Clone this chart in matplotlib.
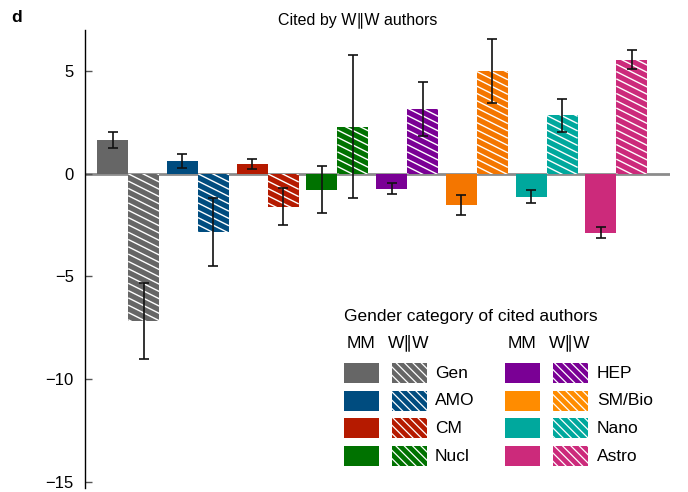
import matplotlib
matplotlib.use("Agg")
import matplotlib.pyplot as plt
from matplotlib.patches import Rectangle
from matplotlib.collections import LineCollection
import numpy as np

plt.rcParams['font.family'] = ['Liberation Sans', 'DejaVu Sans']
plt.rcParams['hatch.color'] = 'white'
plt.rcParams['hatch.linewidth'] = 0.9

fields = ["Gen", "AMO", "CM", "Nucl", "HEP", "SM/Bio", "Nano", "Astro"]
colors = ["#666666", "#004c7f", "#b51a00", "#007200", "#7a0095", "#f47600", "#00a89d", "#cc2a7b"]
legend_colors = ["#666666", "#004c7f", "#b51a00", "#007200", "#7a0095", "#ff8c00", "#00a89d", "#cc2a7b"]

mm_values = [1.65, 0.63, 0.47, -0.78, -0.72, -1.52, -1.12, -2.87]
mm_errors = [0.40, 0.33, 0.25, 1.15, 0.27, 0.50, 0.32, 0.28]
ww_values = [-7.15, -2.83, -1.60, 2.30, 3.15, 5.00, 2.85, 5.55]
ww_errors = [1.85, 1.65, 0.90, 3.50, 1.30, 1.55, 0.80, 0.47]

yticks = [5, 0, -5, -10, -15]

W, H = 688, 492
fig = plt.figure(figsize=(W / 100, H / 100), dpi=100)
ax = fig.add_axes([85 / W, 1 - 488 / H, (670 - 85) / W, (488 - 30) / H])

x = np.arange(len(fields))
bw = 0.445
xlim = (-0.62, 7.77)
ylim = (-15.3, 7.0)
ax.set_xlim(*xlim)
ax.set_ylim(*ylim)

ax.axhline(0, color="#8c8c8c", lw=2, zorder=1)
ax.bar(x - bw / 2, mm_values, width=bw, color=colors, zorder=2, linewidth=0)
ww_bars = ax.bar(x + bw / 2, ww_values, width=bw, color=colors, zorder=2, linewidth=0)

# shallow white stripes on the W||W bars, clipped to each bar
px_per_x = ax.get_position().width * W / (xlim[1] - xlim[0])
px_per_y = ax.get_position().height * H / (ylim[1] - ylim[0])
slope = -0.5 * px_per_x / px_per_y      # data-y per data-x for a -0.5 px/px line
step = 7.3 / px_per_y                   # vertical spacing of the stripes
for bar in ww_bars:
    x0, y0 = bar.get_x(), bar.get_y()
    w, h = bar.get_width(), bar.get_height()
    lo, hi = min(y0, y0 + h), max(y0, y0 + h)
    offs = np.arange(np.floor(lo / step) * step, hi - slope * w + step, step)
    segs = [[(x0, c), (x0 + w, c + slope * w)] for c in offs]
    lc = LineCollection(segs, colors="white", linewidths=1.0, zorder=2.5)
    ax.add_collection(lc)
    lc.set_clip_path(bar)

ax.errorbar(x - bw / 2, mm_values, yerr=mm_errors, fmt="none", ecolor="#111111",
            elinewidth=1.2, capsize=3.5, capthick=1.2, zorder=3)
ax.errorbar(x + bw / 2, ww_values, yerr=ww_errors, fmt="none", ecolor="#111111",
            elinewidth=1.2, capsize=3.5, capthick=1.2, zorder=3)

ax.set_yticks(yticks)
ax.set_yticklabels([str(t).replace("-", "\u2212") for t in yticks], fontsize=12)
ax.set_xticks([])
for s in ["top", "right", "bottom"]:
    ax.spines[s].set_visible(False)
ax.spines["left"].set_linewidth(1.0)
ax.tick_params(axis="y", direction="in", length=5, width=1.0, pad=8, color="#555555")

def fx(px):
    return px / W

def fy(py):
    return 1 - py / H

fig.text(fx(358), fy(20), "Cited by W\u2225W authors", ha="center", va="center", fontsize=11.5)
fig.text(fx(11), fy(17), "d", ha="left", va="center", fontsize=12.5, fontweight="bold")

# legend drawn by hand: two blocks of four fields each
fig.text(fx(344), fy(316), "Gender category of cited authors", ha="left", va="center", fontsize=12.5)
blocks = [(344, 392, 435), (505, 553, 597)]
for b, (mmx, wwx, lx) in enumerate(blocks):
    fig.text(fx(mmx + 3), fy(343), "MM", ha="left", va="center", fontsize=12.5)
    fig.text(fx(wwx - 4), fy(343), "W\u2225W", ha="left", va="center", fontsize=12.5)
    for r in range(4):
        i = b * 4 + r
        yc = 373 + r * 27.7
        sw, sh = 35, 20
        fig.patches.append(Rectangle((fx(mmx), fy(yc + sh / 2)), sw / W, sh / H,
                                     transform=fig.transFigure, facecolor=legend_colors[i], linewidth=0))
        fig.patches.append(Rectangle((fx(wwx), fy(yc + sh / 2)), sw / W, sh / H,
                                     transform=fig.transFigure, facecolor=legend_colors[i],
                                     hatch="\\\\\\\\", linewidth=0))
        fig.text(fx(lx), fy(yc), fields[i], ha="left", va="center", fontsize=12.5)

fig.savefig("out.png", dpi=100)
